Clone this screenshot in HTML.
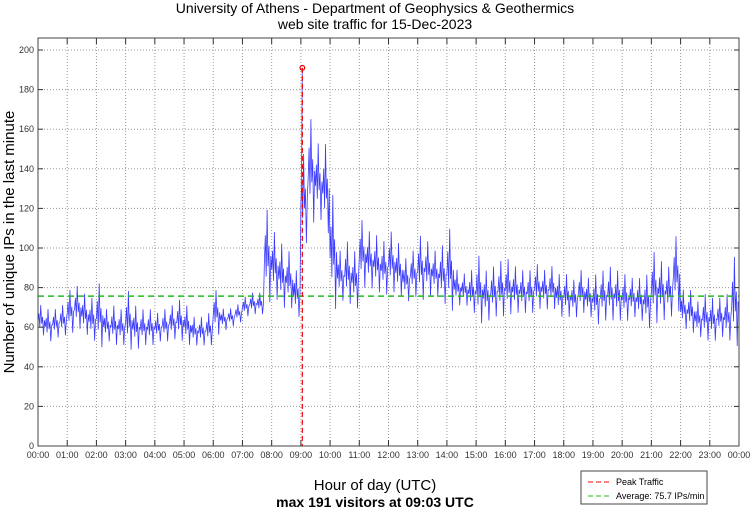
<!DOCTYPE html>
<html><head><meta charset="utf-8"><style>
body{margin:0;background:#fff;width:750px;height:511px;overflow:hidden}
svg{font-family:"Liberation Sans",sans-serif}
</style></head><body>
<svg id="chart" width="750" height="511" viewBox="0 0 750 511">
<text x="375" y="13" text-anchor="middle" font-size="14">University of Athens - Department of Geophysics &amp; Geothermics</text>
<text x="375" y="29" text-anchor="middle" font-size="14">web site traffic for 15-Dec-2023</text>
<g id="grid"></g>
<g id="series"></g>
<g id="axes"></g>
<text x="0" y="0" transform="translate(14,242) rotate(-90)" text-anchor="middle" font-size="15">Number of unique IPs in the last minute</text>
<text x="375" y="490" text-anchor="middle" font-size="15">Hour of day (UTC)</text>
<text x="375" y="507" text-anchor="middle" font-size="14" font-weight="bold">max 191 visitors at 09:03 UTC</text>
<g>
<rect x="581" y="471" width="126" height="33" fill="#fff" stroke="#444" stroke-width="1"/>
<line x1="588" y1="482" x2="612" y2="482" stroke="#f00" stroke-dasharray="5,3"/>
<text x="616" y="485" font-size="9">Peak Traffic</text>
<line x1="588" y1="496" x2="612" y2="496" stroke="#2b2" stroke-dasharray="5,3"/>
<text x="616" y="499" font-size="9">Average: 75.7 IPs/min</text>
</g>
</svg>
<script>
const binLow=[55,52,54,55,56,58,55,52,48,52,50,50,47,48,50,50,52,52,53,52,50,50,50,50,55,58,60,62,65,66,66,70,72,68,68,64,100,110,112,105,66,72,70,68,78,78,76,75,76,74,72,74,72,74,74,70,66,70,70,66,60,62,64,64,65,66,66,66,68,68,68,64,64,64,66,64,60,62,62,62,62,64,62,58,60,62,64,66,58,56,54,52,52,54,52,48];
const binHigh=[72,70,70,72,80,82,78,76,84,70,72,70,80,72,70,70,68,70,72,75,72,66,66,68,80,70,70,72,76,78,78,122,110,104,100,90,150,168,155,155,130,100,105,100,116,110,108,105,110,104,96,100,108,105,100,103,112,90,88,90,98,90,92,95,96,92,90,90,93,90,92,88,88,85,90,86,88,90,92,90,88,86,86,88,100,95,92,108,80,80,74,78,76,76,78,98];
const peakValue=191;
const peakMinute=543;
const averageValue=75.7;
const yTicks=[0,20,40,60,80,100,120,140,160,180,200];
const xTickLabels=["00:00","01:00","02:00","03:00","04:00","05:00","06:00","07:00","08:00","09:00","10:00","11:00","12:00","13:00","14:00","15:00","16:00","17:00","18:00","19:00","20:00","21:00","22:00","23:00","00:00"];
const NS="http://www.w3.org/2000/svg";
const L=38,R=739,T=38,B=446;
const yMax=(B-T)/1.98;
const xs=m=>L+(R-L)*m/1440;
const ys=v=>B-(B-T)*v/yMax;
function mk(tag,attrs,parent){const e=document.createElementNS(NS,tag);for(const k in attrs)e.setAttribute(k,attrs[k]);parent.appendChild(e);return e;}
const grid=document.getElementById('grid'),axes=document.getElementById('axes'),series=document.getElementById('series');
yTicks.forEach(v=>{
  const y=ys(v);
  if(v>0){const g=mk('line',{x1:L,x2:R,y1:y,y2:y,stroke:'#999','stroke-dasharray':'1,2'},grid);
  
  }
  mk('line',{x1:L,x2:L+5,y1:y,y2:y,stroke:'#333'},axes);
  mk('line',{x1:R,x2:R-5,y1:y,y2:y,stroke:'#333'},axes);
  const t=mk('text',{x:L-4,y:y+3,'text-anchor':'end','font-size':'9',fill:'#333'},axes);
  t.textContent=v;
  
  
});
xTickLabels.forEach((lab,i)=>{
  const x=xs(i*60);
  if(i>0&&i<24){const g=mk('line',{x1:x,x2:x,y1:T,y2:B,stroke:'#999','stroke-dasharray':'1,2'},grid);
  
  }
  mk('line',{x1:x,x2:x,y1:B,y2:B-6,stroke:'#333'},axes);
  mk('line',{x1:x,x2:x,y1:T,y2:T+6,stroke:'#333'},axes);
  const t=mk('text',{x:x,y:B+12,'text-anchor':'middle','font-size':'9',fill:'#333'},axes);
  t.textContent=lab;
  
  
});
mk('rect',{x:L,y:T,width:R-L,height:B-T,fill:'none',stroke:'#444'},axes);
// noise shape within each bin (styling pattern, fraction of bin range)
const shape=[0.45,0.7,0.3,0.95,0.4,0.6,0.05,0.5];
let pts=[];
binLow.forEach((lo,b)=>{
  const hi=binHigh[b];
  shape.forEach((f,k)=>{const m=b*15+k*15/shape.length;pts.push(xs(m).toFixed(1)+','+ys(lo+(hi-lo)*f).toFixed(1));});
});
const line=mk('polyline',{points:pts.join(' '),fill:'none',stroke:'#1a1aff','stroke-width':'0.8','stroke-opacity':'0.85'},series);


const px=xs(peakMinute);
const sp=mk('line',{x1:px-1,x2:px,y1:ys(binHigh[36]-20),y2:ys(peakValue),stroke:'#6666ff','stroke-width':'1'},series);


const avg=mk('line',{x1:L,x2:R,y1:ys(averageValue),y2:ys(averageValue),stroke:'#22bb22','stroke-width':'1.5','stroke-dasharray':'6,4'},series);


const pk=mk('line',{x1:px,x2:px,y1:ys(peakValue),y2:B,stroke:'#e00','stroke-width':'1.2','stroke-dasharray':'5,3'},series);


const pm=mk('circle',{cx:px,cy:ys(peakValue),r:2.3,fill:'none',stroke:'#e00','stroke-width':'1.2'},series);


</script>
</body></html>
